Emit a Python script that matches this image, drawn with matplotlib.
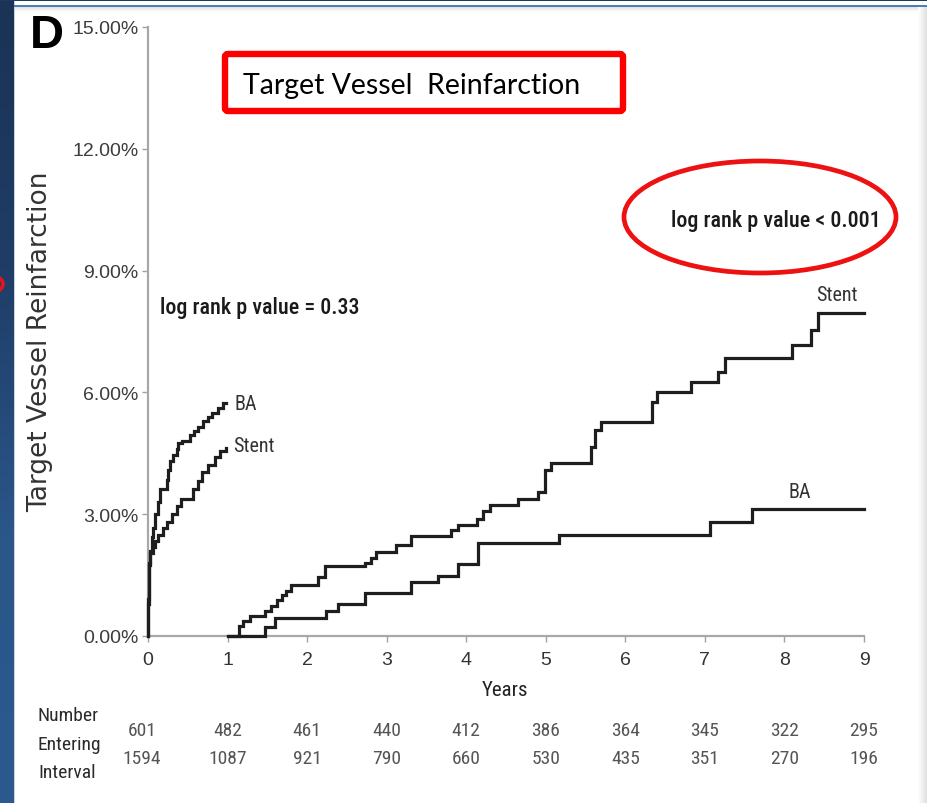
import numpy as np
import matplotlib
matplotlib.use("Agg")
import matplotlib.pyplot as plt
from matplotlib import font_manager as fm
from matplotlib.patches import Rectangle, Ellipse, FancyBboxPatch
from matplotlib.colors import LinearSegmentedColormap


def pick_font(names):
    for n in names:
        try:
            fm.findfont(n, fallback_to_default=False)
            return n
        except Exception:
            pass
    return "DejaVu Sans"


NARROW = pick_font(["Liberation Sans Narrow", "Roboto Condensed", "Liberation Sans"])
ARIAL = pick_font(["Liberation Sans", "DejaVu Sans"])
CALIBRI = pick_font(["Lato", "Open Sans", "DejaVu Sans"])

# Kaplan-Meier curves, years vs cumulative % reinfarction
# first year (0-1)
ba_early_t = [0.0, 0.003, 0.008, 0.015, 0.03, 0.05, 0.067, 0.088, 0.12, 0.151, 0.235, 0.256,
              0.276, 0.318, 0.36, 0.381, 0.423, 0.528, 0.575, 0.633, 0.69, 0.75, 0.80, 0.884, 0.947, 0.98]
ba_early_y = [0.0, 0.8, 1.3, 1.75, 2.1, 2.45, 2.65, 3.0, 3.3, 3.63, 3.85, 4.1,
              4.3, 4.45, 4.6, 4.75, 4.8, 4.95, 5.05, 5.15, 5.3, 5.4, 5.5, 5.62, 5.73, 5.73]
stent_early_t = [0.0, 0.003, 0.008, 0.015, 0.03, 0.067, 0.088, 0.13, 0.19, 0.24, 0.30, 0.36,
                 0.42, 0.57, 0.63, 0.68, 0.76, 0.84, 0.90, 0.98]
stent_early_y = [0.0, 0.9, 1.4, 1.8, 2.05, 2.2, 2.35, 2.5, 2.65, 2.8, 3.0, 3.2,
                 3.38, 3.63, 3.83, 4.03, 4.2, 4.4, 4.56, 4.63]

# after the first year (1-9)
stent_late_t = [1.0, 1.15, 1.20, 1.28, 1.47, 1.55, 1.62, 1.68, 1.74, 1.80, 2.14, 2.22, 2.73,
                2.80, 2.87, 3.12, 3.30, 3.81, 3.90, 4.13, 4.21, 4.30, 4.65, 4.90, 4.99, 5.07,
                5.57, 5.62, 5.70, 6.33, 6.40, 6.83, 7.16, 7.25, 8.09, 8.34, 8.42, 9.0]
stent_late_y = [0.0, 0.25, 0.37, 0.5, 0.62, 0.75, 0.88, 1.0, 1.12, 1.26, 1.45, 1.72, 1.8,
                1.93, 2.07, 2.25, 2.46, 2.6, 2.74, 2.87, 3.07, 3.22, 3.38, 3.55, 4.08, 4.25,
                4.66, 5.07, 5.28, 5.77, 6.02, 6.26, 6.51, 6.84, 7.17, 7.54, 7.95, 7.95]
ba_late_t = [1.0, 1.47, 1.60, 2.24, 2.39, 2.73, 3.31, 3.65, 3.90, 4.15, 5.17, 7.07, 7.59, 9.0]
ba_late_y = [0.0, 0.22, 0.44, 0.62, 0.79, 1.07, 1.33, 1.48, 1.77, 2.3, 2.5, 2.81, 3.12, 3.12]

years = list(range(10))
yticks = [0, 3, 6, 9, 12, 15]
n_row1 = [601, 482, 461, 440, 412, 386, 364, 345, 322, 295]
n_row2 = [1594, 1087, 921, 790, 660, 530, 435, 351, 270, 196]

W, H = 928, 804
fig = plt.figure(figsize=(W / 100, H / 100), dpi=100)
fig.patch.set_facecolor("white")

# slide frame drawn in pixel coordinates
bg = fig.add_axes([0, 0, 1, 1], zorder=-10)
bg.set_xlim(0, W)
bg.set_ylim(H, 0)
bg.axis("off")
strip = LinearSegmentedColormap.from_list("strip", ["#1b3354", "#1f3d66", "#2a5689", "#2c5a8f"])
bg.imshow(np.linspace(0, 1, 200).reshape(-1, 1), cmap=strip, aspect="auto",
          extent=[0, 14, H, 0], zorder=1)
bg.add_patch(Rectangle((14, 0), 1.5, H, color="#c9d3df", lw=0, zorder=2))
bg.add_patch(Rectangle((0, 0), W, 2, color="#1f3a5f", lw=0, zorder=2))
bg.add_patch(Rectangle((14, 5.5), W, 2.2, color="#4b7dbb", lw=0, zorder=2))
bg.imshow(np.linspace(0, 1, 20).reshape(-1, 1), cmap=LinearSegmentedColormap.from_list("sh", ["#dcdcdc", "#ffffff"]),
          aspect="auto", extent=[15.5, W, 13, 7.7], zorder=1)
bg.imshow(np.linspace(1, 0, 20).reshape(1, -1), cmap=LinearSegmentedColormap.from_list("sh2", ["#dcdcdc", "#ffffff"]),
          aspect="auto", extent=[918, W, H, 7.7], zorder=1)
bg.add_patch(Ellipse((-30, 285), 66, 28, fill=False, ec="#e8141b", lw=2.5, zorder=3))

# red title box and ellipse
bg.add_patch(FancyBboxPatch((225, 55), 398, 57, boxstyle="round,pad=0,rounding_size=3",
                            fill=False, ec="#ff0000", lw=4.6, zorder=3))
bg.text(243, 86, "Target Vessel  Reinfarction", fontsize=20.5, family=CALIBRI,
        ha="left", va="center", color="black", zorder=4)
bg.add_patch(Ellipse((760, 218), 272, 112, fill=False, ec="#ee1111", lw=3.4, zorder=3))
bg.text(47, 36, "D", fontsize=34, fontweight="bold", family=ARIAL, ha="center", va="center", color="black")

ax = fig.add_axes([148 / W, 1 - 637 / H, (864 - 148) / W, (637 - 28) / H])
ax.set_facecolor("none")
line_kw = dict(where="post", color="#1e1e1e", lw=2.3, solid_joinstyle="miter", clip_on=False, zorder=3)
ax.step(ba_early_t, ba_early_y, **line_kw)
ax.step(stent_early_t, stent_early_y, **line_kw)
ax.step(stent_late_t, stent_late_y, **line_kw)
ax.step(ba_late_t, ba_late_y, **line_kw)

ax.set_xlim(0, 9)
ax.set_ylim(0, 15)
ax.set_xticks(years)
ax.set_xticklabels([str(y) for y in years], fontsize=14, family=ARIAL, color="#333333")
ax.set_yticks(yticks)
ax.set_yticklabels([f"{v:.2f}%" for v in yticks], fontsize=14, family=ARIAL, color="#3c3c3c")
ax.tick_params(axis="both", length=4, width=1, color="#a0a0a0", pad=3)
ax.tick_params(axis="x", pad=7)
for side in ("top", "right"):
    ax.spines[side].set_visible(False)
for side in ("left", "bottom"):
    ax.spines[side].set_color("#a8a8a8")
    ax.spines[side].set_linewidth(1.6)

lab = dict(fontsize=14.5, family=NARROW, color="#333333", va="center")
ax.text(1.09, 5.73, "BA", **lab)
ax.text(1.07, 4.7, "Stent", **lab)
ax.text(8.4, 8.4, "Stent", **lab)
ax.text(8.05, 3.55, "BA", **lab)
note = dict(fontsize=15.8, family=NARROW, color="#1a1a1a", va="center", fontweight="medium")
ax.text(0.15, 8.1, "log rank p value = 0.33", **note)
ax.text(6.58, 10.25, "log rank p value < 0.001", **note)

bg.text(40, 342, "Target Vessel Reinfarction", rotation=90, fontsize=19, family="DejaVu Sans",
        color="#333333", ha="center", va="center")
bg.text(505, 691, "Years", fontsize=15, family=NARROW, color="#222222", ha="center", va="center")

# number at risk table
for lbl, yy in zip(["Number", "Entering", "Interval"], [716, 745, 773]):
    bg.text(38, yy, lbl, fontsize=14, family=NARROW, color="#2a2a2a", ha="left", va="center")
for yr, a, b in zip(years, n_row1, n_row2):
    xp = 148 + (864 - 148) * yr / 9
    if yr == 0:
        xp -= 6
    bg.text(xp, 731, str(a), fontsize=14, family=NARROW, color="#555555", ha="center", va="center")
    bg.text(xp, 759, str(b), fontsize=14, family=NARROW, color="#555555", ha="center", va="center")

fig.savefig("out.png", dpi=100)
